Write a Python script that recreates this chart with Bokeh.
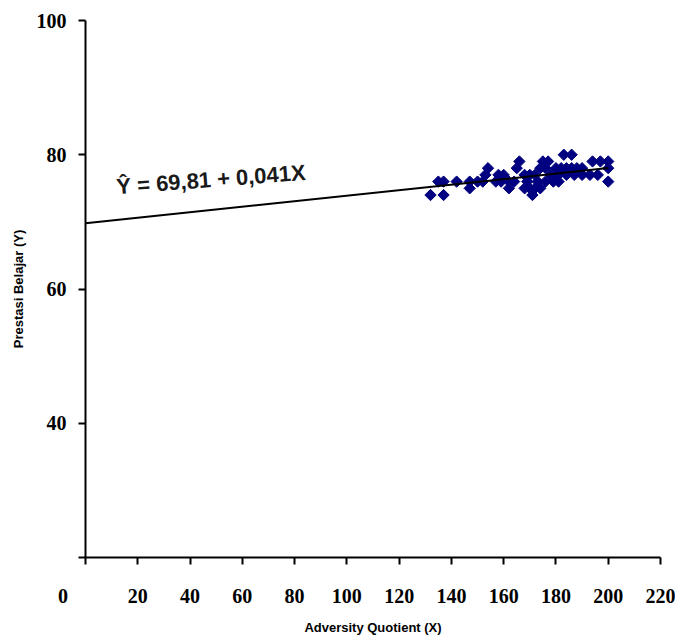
import math
from bokeh.plotting import figure
from bokeh.models import ColumnDataSource, Label, FixedTicker, Range1d
from bokeh.embed import file_html
from bokeh.resources import INLINE

# Data
aq_x = [183, 186,
        166, 175, 177, 194, 197, 200,
        154, 165, 174, 176, 180, 182, 184, 186, 188, 190, 200,
        153, 158, 160, 168, 170, 172, 178, 181, 184, 187, 190, 193, 196,
        135, 137, 142, 147, 150, 152, 157, 159, 162, 164, 169, 173, 176, 179, 181, 200,
        147, 162, 168, 170, 172, 174,
        132, 137, 171]
pb_y = [80, 80,
        79, 79, 79, 79, 79, 79,
        78, 78, 78, 78, 78, 78, 78, 78, 78, 78, 78,
        77, 77, 77, 77, 77, 77, 77, 77, 77, 77, 77, 77, 77,
        76, 76, 76, 76, 76, 76, 76, 76, 76, 76, 76, 76, 76, 76, 76, 76,
        75, 75, 75, 75, 75, 75,
        74, 74, 74]

line_x = [0, 200]
line_y = [69.81, 78.01]

x_ticks = [0, 20, 40, 60, 80, 100, 120, 140, 160, 180, 200, 220]
y_ticks = [20, 40, 60, 80, 100]
equation = "Ŷ = 69,81 + 0,041X"

p = figure(width=675, height=637, output_backend="svg", toolbar_location=None,
           x_range=Range1d(0, 220), y_range=Range1d(20, 100),
           min_border_left=85, min_border_right=15, min_border_top=20, min_border_bottom=77)
p.outline_line_color = None
p.xgrid.visible = False
p.ygrid.visible = False
p.background_fill_color = "white"

for ax in (p.xaxis[0], p.yaxis[0]):
    ax.axis_line_width = 2
    ax.axis_line_color = "black"
    ax.major_tick_line_width = 2
    ax.major_tick_line_color = "black"
    ax.major_tick_in = 0
    ax.major_tick_out = 7
    ax.minor_tick_line_color = None
    ax.major_label_text_font = "Liberation Serif"
    ax.major_label_text_font_size = "20px"
    ax.major_label_text_font_style = "bold"
    ax.major_label_text_color = "black"
    ax.axis_label_text_font = "Liberation Sans"
    ax.axis_label_text_font_size = "13px"
    ax.axis_label_text_font_style = "bold"
    ax.axis_label_text_color = "black"

p.xaxis.ticker = FixedTicker(ticks=x_ticks)
p.yaxis.ticker = FixedTicker(ticks=y_ticks)
p.xaxis.major_label_overrides = {0: "0" + "\u00a0" * 9}
p.yaxis.major_label_overrides = {20: ""}
p.xaxis.major_label_standoff = 20
p.yaxis.major_label_standoff = 12
p.xaxis.axis_label = "Adversity Quotient (X)"
p.yaxis.axis_label = "Prestasi Belajar (Y)"
p.xaxis.axis_label_standoff = 10
p.yaxis.axis_label_standoff = 8

src = ColumnDataSource(dict(x=aq_x, y=pb_y))
p.scatter("x", "y", source=src, marker="square", angle=math.pi / 4, size=8,
          fill_color="#000080", line_color="#000080")
p.line(line_x, line_y, line_color="black", line_width=2)

p.add_layout(Label(x=48, y=76.3, text=equation, angle=0.077,
                   text_font="Liberation Sans", text_font_size="22px",
                   text_font_style="bold",
                   text_align="center", text_baseline="middle", text_color="#1a1a1a"))

open("out.html", "w").write(file_html(p, INLINE))
